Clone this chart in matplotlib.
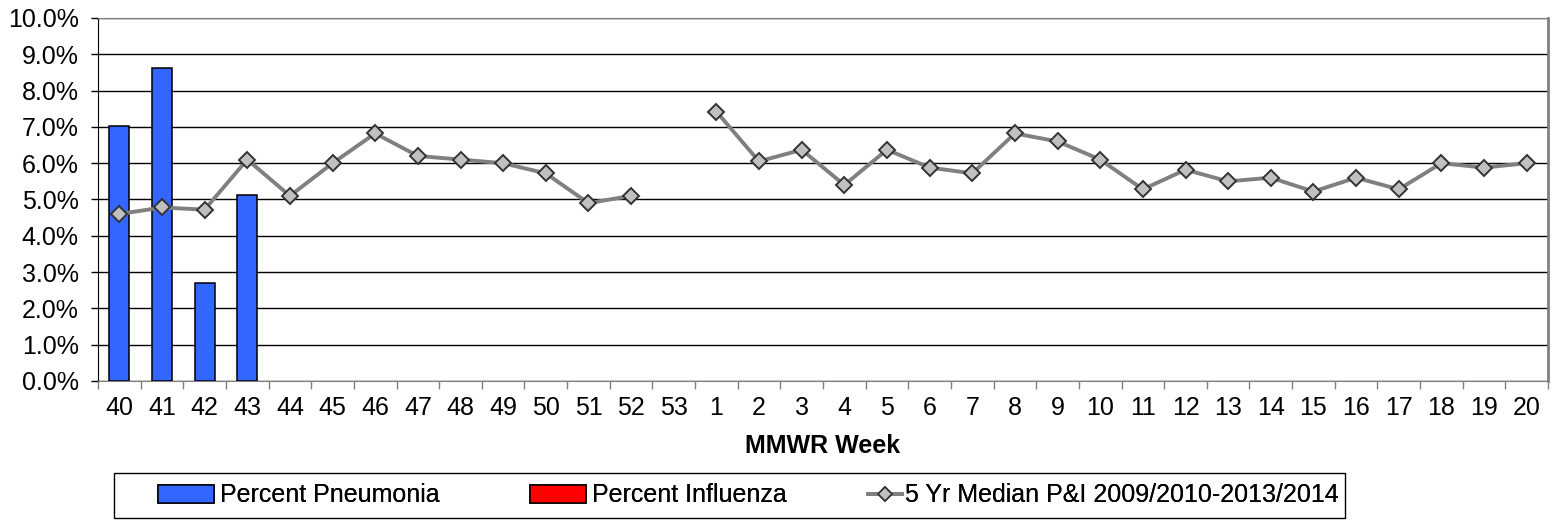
import numpy as np
import matplotlib.pyplot as plt
from matplotlib.ticker import FuncFormatter
from matplotlib.lines import Line2D
from matplotlib.patches import Rectangle

plt.rcParams['font.family'] = ['Liberation Sans', 'DejaVu Sans']

weeks = ['40', '41', '42', '43', '44', '45', '46', '47', '48', '49', '50', '51', '52', '53',
         '1', '2', '3', '4', '5', '6', '7', '8', '9', '10', '11', '12', '13', '14', '15',
         '16', '17', '18', '19', '20']
pct_pneumonia = [7.02, 8.62, 2.70, 5.12] + [np.nan] * 30
pct_influenza = [np.nan] * 34  # no influenza reported
median_pi = [4.6, 4.78, 4.72, 6.1, 5.1, 6.0, 6.82, 6.2, 6.1, 6.0, 5.72, 4.9, 5.1, np.nan,
             7.42, 6.05, 6.37, 5.4, 6.37, 5.88, 5.72, 6.82, 6.6, 6.1, 5.28, 5.82, 5.5, 5.6,
             5.22, 5.6, 5.28, 6.0, 5.88, 6.0]
series_names = ['Percent Pneumonia', 'Percent Influenza', '5 Yr Median P&I 2009/2010-2013/2014']

W, H = 1559, 520
x = np.arange(len(weeks))

fig = plt.figure(figsize=(W / 100, H / 100), dpi=100)
ax = fig.add_axes([98 / W, 1 - 381 / H, 1450 / W, 363 / H])

bw = 0.47
b1 = ax.bar(x, pct_pneumonia, width=bw, color='#3366FF', edgecolor='black', linewidth=1.1,
            zorder=3)
b2 = ax.bar(x, pct_influenza, width=bw, color='#FF0000', edgecolor='black', linewidth=1.1,
            zorder=2)
ax.plot(x, median_pi, color='#808080', linewidth=2.8, marker='D', markersize=8.5,
        markerfacecolor='#C0C0C0', markeredgecolor='#333333', markeredgewidth=1.4, zorder=4)

ax.set_xlim(-0.5, len(weeks) - 0.5)
ax.set_ylim(0, 10)
ax.set_yticks(np.arange(0, 10.01, 1))
ax.yaxis.set_major_formatter(FuncFormatter(lambda v, p: '%.1f%%' % v))
ax.yaxis.grid(True, color='black', linewidth=1)
ax.set_axisbelow(True)

ax.set_xticks(x)
ax.set_xticklabels(weeks)
ax.set_xticks(np.arange(-0.5, len(weeks), 1), minor=True)
ax.tick_params(axis='x', which='major', length=0, labelsize=18, pad=11)
ax.tick_params(axis='x', which='minor', length=6, color='#808080', width=1)
ax.tick_params(axis='y', length=5, labelsize=18, width=1, pad=9)

ax.spines['left'].set_color('black')
ax.spines['bottom'].set_color('#808080')
ax.spines['top'].set_color('#808080')
ax.spines['right'].set_color('#808080')
ax.spines['right'].set_linewidth(2)

ax.set_xlabel('MMWR Week', fontsize=18, fontweight='bold', labelpad=10)

# legend: frame box plus three entries laid out like the original
fig.patches.append(Rectangle((114 / W, 1 - 518 / H), 1231 / W, 45 / H,
                             transform=fig.transFigure, fill=False, edgecolor='black',
                             linewidth=1))
line_proxy = Line2D([], [], color='#808080', linewidth=2.7, marker='D', markersize=7,
                    markerfacecolor='#C0C0C0', markeredgecolor='#333333', markeredgewidth=1.2)
entries = [(b1, series_names[0], 158, 2.25, 0.25),
           (b2, series_names[1], 530, 2.25, 0.25),
           (line_proxy, series_names[2], 868, 1.35, 0.12)]
for h, lab, xpos, hl, tp in entries:
    lg = fig.legend([h], [lab], loc='center left', bbox_to_anchor=(xpos / W, 1 - 495.5 / H),
                    frameon=False, fontsize=18, handlelength=hl, handleheight=0.7,
                    handletextpad=tp, borderpad=0, borderaxespad=0)
    fig.add_artist(lg)

fig.savefig('out.png', dpi=100)
